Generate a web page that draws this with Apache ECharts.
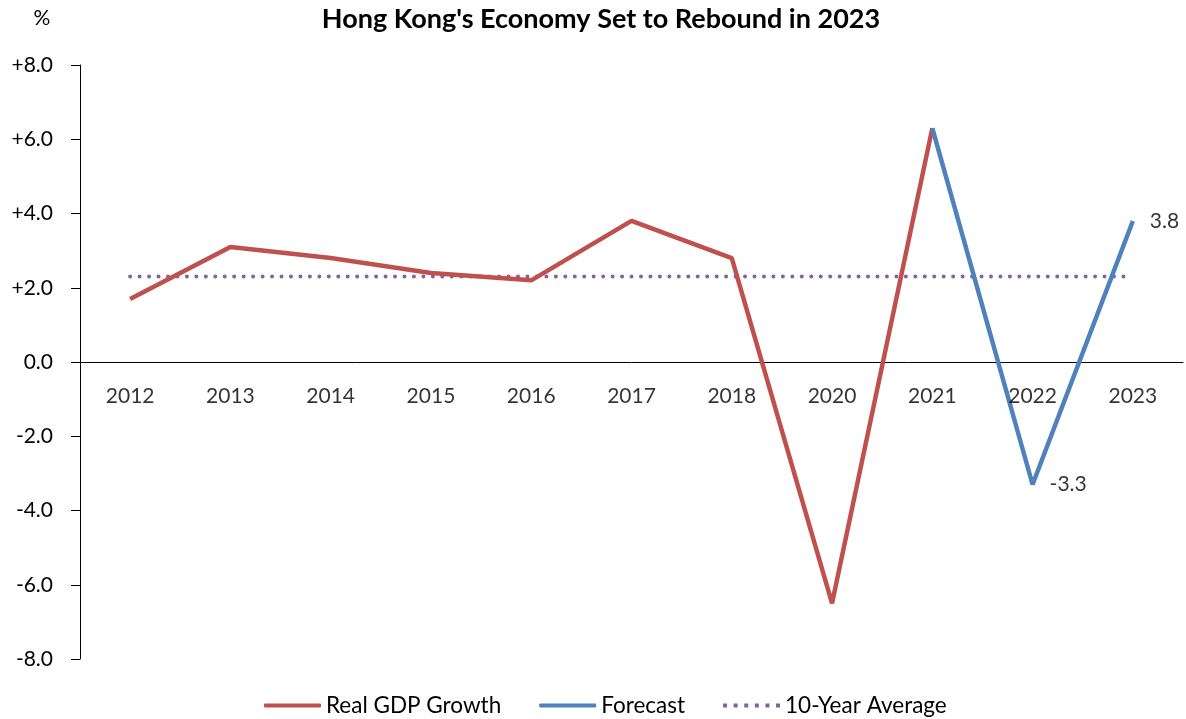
<!DOCTYPE html>
<html><head><meta charset="utf-8">
<script src="https://cdn.jsdelivr.net/npm/echarts@6/dist/echarts.min.js"></script>
<style>html,body{margin:0;padding:0;background:#fff}#c{width:1186px;height:719px}</style>
</head><body><div id="c"></div>
<script>
var categories = ['2012','2013','2014','2015','2016','2017','2018','2020','2021','2022','2023'];
var realGdp = [1.7, 3.1, 2.8, 2.4, 2.2, 3.8, 2.8, -6.5, 6.3, null, null];
var forecast = [null, null, null, null, null, null, null, null, 6.3, -3.3, 3.8];
var tenYearAvg = [2.3, 2.3, 2.3, 2.3, 2.3, 2.3, 2.3, 2.3, 2.3, 2.3, 2.3];
var labeledYears = ['2022', '2023'];

var FONT = 'Lato, "Open Sans", "DejaVu Sans", sans-serif';
var labelPoints = forecast.map(function (v, i) {
  return labeledYears.indexOf(categories[i]) >= 0 ? v : null;
});
var zeroLine = categories.map(function () { return 0; });

// legend icon for the dotted series: six dots across the icon box
var dotIcon = 'path://' + [0, 10.6, 21.2, 31.8, 42.4, 53].map(function (x) {
  return 'M' + x + ',0h4v4h-' + 4 + 'z';
}).join(' ');

var chart = echarts.init(document.getElementById('c'));
chart.setOption({
  animation: false,
  textStyle: {fontFamily: FONT, color: '#000'},
  graphic: [
    {type: 'text', x: 601, y: 19, style: {text: "Hong Kong's Economy Set to Rebound in 2023",
      font: 'bold 27px ' + FONT, fill: '#000', align: 'center', verticalAlign: 'middle'}},
    {type: 'text', x: 42, y: 18, style: {text: '%', font: '21px ' + FONT, fill: '#000',
      align: 'center', verticalAlign: 'middle'}}
  ],
  legend: {
    bottom: -3, left: 259, itemWidth: 57, itemHeight: 4, itemGap: 38,
    textStyle: {fontFamily: FONT, fontSize: 22.5, color: '#000'},
    data: [
      {name: 'Real GDP Growth', icon: 'roundRect'},
      {name: 'Forecast', icon: 'roundRect'},
      {name: '10-Year Average', icon: dotIcon}
    ]
  },
  grid: {left: 80, right: 3, top: 65, bottom: 60, containLabel: false},
  xAxis: {
    type: 'category', data: categories, boundaryGap: true,
    axisLine: {onZero: true, lineStyle: {color: '#000', width: 1}},
    axisTick: {show: false},
    axisLabel: {show: false}
  },
  yAxis: {
    type: 'value', min: -8, max: 8, interval: 2,
    axisLine: {show: true, lineStyle: {color: '#000', width: 1}},
    axisTick: {show: true, length: 9, lineStyle: {color: '#000'}},
    splitLine: {show: false},
    axisLabel: {
      fontSize: 21, color: '#000', margin: 27, fontFamily: FONT,
      formatter: function (v) { return (v > 0 ? '+' : '') + v.toFixed(1); }
    }
  },
  series: [
    {name: 'Real GDP Growth', type: 'line', data: realGdp, symbol: 'none',
     lineStyle: {color: '#C0504D', width: 4.5}, itemStyle: {color: '#C0504D'}, z: 3},
    {name: 'Forecast', type: 'line', data: forecast, symbol: 'none',
     lineStyle: {color: '#4F81BD', width: 4.5}, itemStyle: {color: '#4F81BD'}, z: 4},
    {name: '10-Year Average', type: 'line', data: tenYearAvg, symbol: 'none',
     lineStyle: {color: '#8064A2', width: 4, type: [0.01, 9.45], cap: 'round'}, itemStyle: {color: '#8064A2'}, z: 2},
    {name: 'forecastLabels', type: 'scatter', data: labelPoints, symbolSize: 0, silent: true, z: 5,
     label: {show: true, position: 'right', distance: 17, fontSize: 21, color: '#000', fontFamily: FONT,
       formatter: function (p) { return p.value == null ? '' : p.value.toFixed(1); }}},
    {name: 'xLabels', type: 'scatter', data: zeroLine, symbolSize: 0, silent: true, z: 5,
     label: {show: true, position: 'bottom', distance: 24, fontSize: 21, color: '#000', fontFamily: FONT,
       formatter: function (p) { return p.name; }}}
  ]
});
</script></body></html>
